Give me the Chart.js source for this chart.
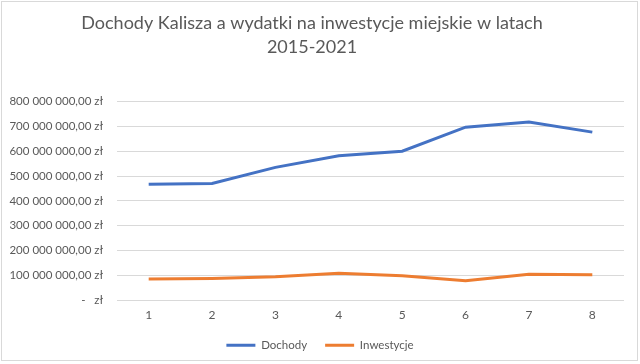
<!DOCTYPE html>
<html>
<head>
<meta charset="utf-8">
<script src="https://cdn.jsdelivr.net/npm/chart.js@4/dist/chart.umd.min.js"></script>
<style>
  html, body { margin: 0; padding: 0; background: #fff; }
  #wrap { position: relative; width: 640px; height: 364px; }
  #frame { position: absolute; left: 1px; top: 1px; width: 635px; height: 358px; border: 1px solid #d9d9d9; box-sizing: content-box; pointer-events: none; }
  canvas { display: block; }
</style>
</head>
<body>
<div id="wrap">
  <canvas id="c" width="640" height="364"></canvas>
  <div id="frame"></div>
</div>
<script>
const categories = ["1", "2", "3", "4", "5", "6", "7", "8"];
const dochody = [467000000, 470000000, 535000000, 582000000, 600000000, 697000000, 718000000, 677000000];
const inwestycje = [85000000, 87500000, 94000000, 108000000, 98000000, 78000000, 104000000, 102000000];
const titleLines = ["Dochody Kalisza a wydatki na inwestycje miejskie w latach", "2015-2021"];
const seriesNames = ["Dochody", "Inwestycje"];

const FONT = "Lato, 'Liberation Sans', sans-serif";
const TXT = "#595959";
const LEGEND_PAD = 18;

function fmt(v) {
  if (v === 0) return "-   zł";
  const s = Math.round(v).toString().replace(/\B(?=(\d{3})+(?!\d))/g, " ");
  return s + ",00 zł";
}

const legendTweak = {
  id: "legendTweak",
  beforeInit(chart) {
    const lg = chart.legend;
    if (!lg) return;
    const orig = lg.fit.bind(lg);
    lg.fit = function () {
      orig();
      this.height -= (LEGEND_PAD - 6);
    };
  },
  afterLayout(chart) {
    const lg = chart.legend;
    if (!lg) return;
    lg.top -= 9;
    lg.left += 8;
    lg.right += 8;
  }
};

new Chart(document.getElementById("c"), {
  type: "line",
  data: {
    labels: categories,
    datasets: [
      { label: seriesNames[0], data: dochody, borderColor: "#4472C4", backgroundColor: "#4472C4", borderWidth: 3, pointRadius: 0, tension: 0, pointStyle: "line" },
      { label: seriesNames[1], data: inwestycje, borderColor: "#ED7D31", backgroundColor: "#ED7D31", borderWidth: 3, pointRadius: 0, tension: 0, pointStyle: "line" }
    ]
  },
  plugins: [legendTweak],
  options: {
    responsive: false,
    animation: false,
    layout: { padding: { left: 0, right: 16, top: 11, bottom: 6 } },
    plugins: {
      title: {
        display: true,
        text: titleLines,
        color: TXT,
        font: { family: FONT, size: 18, weight: "normal", lineHeight: 1.35 },
        padding: { top: 0, bottom: 42 }
      },
      legend: {
        position: "bottom",
        labels: {
          color: TXT,
          font: { family: FONT, size: 11.5 },
          usePointStyle: true,
          pointStyleWidth: 29,
          boxHeight: 12,
          padding: LEGEND_PAD
        }
      },
      tooltip: { enabled: false }
    },
    scales: {
      x: {
        offset: true,
        grid: { display: false, drawTicks: false },
        border: { display: false },
        ticks: { color: TXT, font: { family: FONT, size: 12 }, padding: 8 }
      },
      y: {
        min: 0,
        max: 800000000,
        grid: { color: "#d9d9d9", lineWidth: 1, drawTicks: false },
        border: { display: false },
        afterFit: (s) => { s.width = 117; },
        ticks: { stepSize: 100000000, color: TXT, font: { family: FONT, size: 11.5 }, padding: 14, callback: (v) => fmt(v) }
      }
    }
  }
});
</script>
</body>
</html>
